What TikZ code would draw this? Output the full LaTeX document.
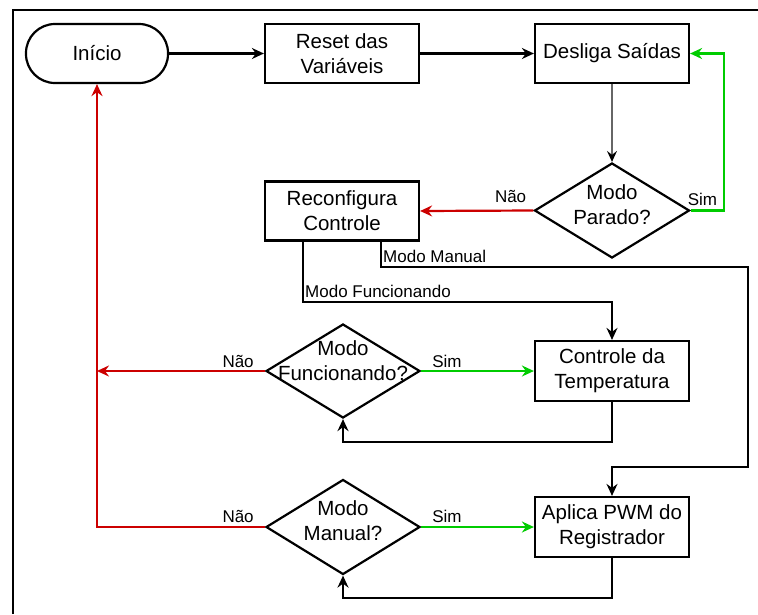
\documentclass[tikz,border=0pt]{standalone}
\usepackage{fontspec}
\setmainfont{Liberation Sans}
\usetikzlibrary{arrows.meta,shapes.geometric,calc}
\definecolor{noRed}{HTML}{CC0000}
\definecolor{yesGreen}{HTML}{00CC00}
\definecolor{flowGray}{HTML}{666666}

\begin{document}
\begin{tikzpicture}[x=1pt,y=-1pt,
  txt/.style={font=\fontsize{20.5}{25}\selectfont, align=center},
  lbl/.style={font=\fontsize{17}{20}\selectfont, inner sep=0pt},
  box/.style={txt, draw, line width=2.2pt, minimum width=154pt, minimum height=59pt, inner sep=2pt},
  terminal/.style={box, rounded corners=29pt, minimum width=142pt},
  decision/.style={draw, diamond, line width=2.2pt, inner sep=0pt, minimum width=155pt, minimum height=95pt},
  tip/.style={-{Stealth[length=12pt,width=11pt,inset=4pt]}},
  conn/.style={line width=2.2pt, black},
  yes/.style={line width=2.2pt, yesGreen},
  no/.style={line width=2.2pt, noRed}]

\useasboundingbox (0,0) rectangle (758,614);

% page frame
\draw[line width=2.2pt] (13,614) -- (13,10) -- (758,10);

% blocks
\node[terminal] (inicio) at (97,53.5) {Início};
\node[box] (reset) at (342,53.5) {Reset das\\Variáveis};
\node[box] (desliga) at (612,53.5) {Desliga Saídas};
\node[decision] (parado) at (612,210.5) {};
\node[txt, inner sep=0pt] (paradoTxt) at ($(parado.center)+(0,-6)$) {Modo\\Parado?};
\node[box] (reconf) at (342,211) {Reconfigura\\Controle};
\node[decision, minimum width=154pt, minimum height=94pt] (func) at (343,371) {};
\node[txt, inner sep=0pt] (funcTxt) at ($(func.center)+(0,-10)$) {Modo\\Funcionando?};
\node[box, minimum height=60pt] (controle) at (612,371) {Controle da\\Temperatura};
\node[decision, minimum width=154pt] (manual) at (343,527) {};
\node[txt, inner sep=0pt] (manualTxt) at ($(manual.center)+(0,-6)$) {Modo\\Manual?};
\node[box, minimum height=60pt] (aplica) at (612,527) {Aplica PWM do\\Registrador};

% routing rails
\coordinate (simRail) at (724,0);
\coordinate (manRail) at (748,0);
\coordinate (manRow) at (0,267);
\coordinate (funRow) at (0,302);
\coordinate (pwmRow) at (0,467);
\coordinate (loopF) at (0,442);
\coordinate (loopM) at (0,598);
\coordinate (mfOut) at ([xshift=-39pt]reconf.south);
\coordinate (mmOut) at ([xshift=39pt]reconf.south);

% main sequence
\draw[conn, tip] (inicio) -- (reset);
\draw[conn, tip] (reset) -- (desliga);
\draw[line width=1.4pt, flowGray, -{Stealth[length=11pt,width=10pt,inset=4pt,color=black]}] (desliga) -- (parado);

% Modo Parado?
\draw[yes, tip] (parado.east) -- (parado.east -| simRail) |- (desliga.east);
\node[lbl, anchor=base west] (paradoSim) at ($(parado.east)+(-3,-5.5)$) {Sim};
\draw[no, tip] (parado.west) -- (reconf.east);
\node[lbl, anchor=base east] (paradoNao) at ($(parado.west)+(-7,-8.5)$) {Não};

% Reconfigura Controle branches
\draw[conn, tip] (mmOut) -- (mmOut |- manRow) -- (manRow -| manRail) -- (pwmRow -| manRail) -| (aplica.north);
\node[lbl, anchor=base west] (mmLbl) at ($(mmOut |- manRow)+(2,-5)$) {Modo Manual};
\draw[conn, tip] (mfOut) -- (mfOut |- funRow) -| (controle.north);
\node[lbl, anchor=base west] (mfLbl) at ($(mfOut |- funRow)+(2,-5)$) {Modo Funcionando};

% Modo Funcionando?
\draw[yes, tip] (func.east) -- (controle.west);
\node[lbl, anchor=base west] (funcSim) at ($(func.east)+(11,-4)$) {Sim};
\draw[no, tip] (func.west) -- (func.west -| inicio.south);
\node[lbl, anchor=base east] (funcNao) at ($(func.west)+(-11,-4)$) {Não};
\draw[conn, tip] (controle.south) -- (controle.south |- loopF) -| (func.south);

% Modo Manual?
\draw[yes, tip] (manual.east) -- (aplica.west);
\node[lbl, anchor=base west] (manSim) at ($(manual.east)+(11,-5)$) {Sim};
\draw[no, tip] (manual.west) -| (inicio.south);
\node[lbl, anchor=base east] (manNao) at ($(manual.west)+(-11,-5)$) {Não};
\draw[conn, tip] (aplica.south) -- (aplica.south |- loopM) -| (manual.south);

\end{tikzpicture}
\end{document}
